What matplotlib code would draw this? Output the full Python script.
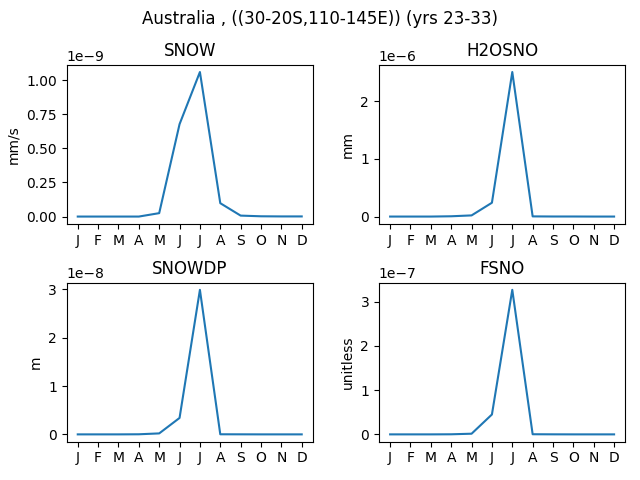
"""Monthly snow climatology, Australia region."""

import matplotlib

matplotlib.use("Agg")
from matplotlib import pyplot as plt

months = ["J", "F", "M", "A", "M", "J", "J", "A", "S", "O", "N", "D"]

snow = [0.0, 0.0, 0.0, 0.0, 0.025e-9, 0.677e-9, 1.059e-9, 0.098e-9,
        0.007e-9, 0.002e-9, 0.001e-9, 0.001e-9]
h2osno = [0.0, 0.0, 0.0, 0.005e-6, 0.02e-6, 0.24e-6, 2.51e-6, 0.003e-6,
          0.001e-6, 0.001e-6, 0.0, 0.0]
snowdp = [0.0, 0.0, 0.0, 0.002e-8, 0.02e-8, 0.34e-8, 2.99e-8, 0.002e-8,
          0.001e-8, 0.0, 0.0, 0.0]
fsno = [0.0, 0.0, 0.0, 0.002e-7, 0.015e-7, 0.45e-7, 3.27e-7, 0.003e-7,
        0.001e-7, 0.0, 0.0, 0.0]

panels = [
    ("SNOW", "mm/s", snow),
    ("H2OSNO", "mm", h2osno),
    ("SNOWDP", "m", snowdp),
    ("FSNO", "unitless", fsno),
]

fig, axes = plt.subplots(2, 2, figsize=(6.4, 4.8), dpi=100)
x = list(range(len(months)))
for ax, (name, units, values) in zip(axes.flat, panels):
    ax.plot(x, values)
    ax.set_title(name)
    ax.set_ylabel(units)
    ax.set_xticks(x)
    ax.set_xticklabels(months)

fig.suptitle("Australia , ((30-20S,110-145E)) (yrs 23-33)")
fig.subplots_adjust(left=0.104, right=0.977, top=0.865, bottom=0.080,
                    hspace=0.37, wspace=0.268)
fig.savefig("out.png")
